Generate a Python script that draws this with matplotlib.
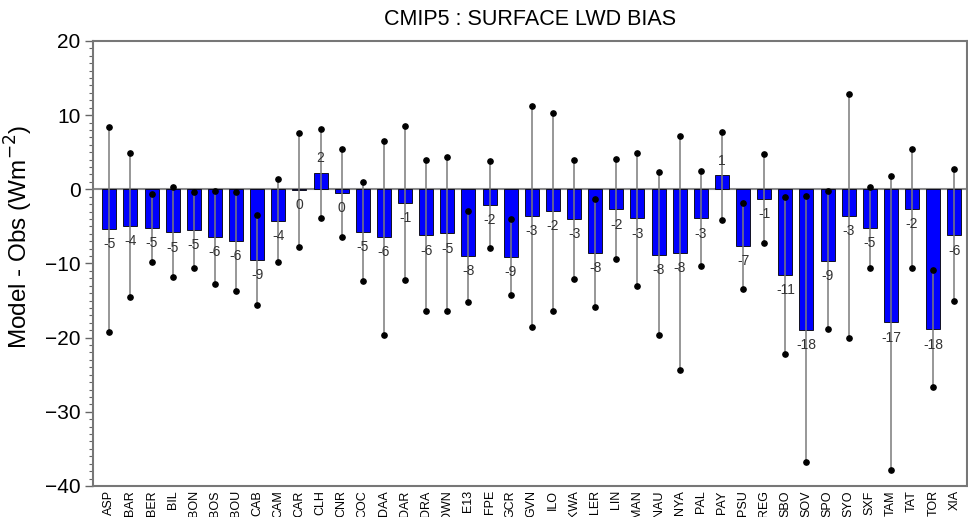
import numpy as np
import matplotlib
matplotlib.use("Agg")
import matplotlib.pyplot as plt

plt.rcParams['font.family'] = ['Liberation Sans', 'DejaVu Sans']

stations = ["ASP", "BAR", "BER", "BIL", "BON", "BOS", "BOU", "CAB", "CAM", "CAR",
            "CLH", "CNR", "COC", "DAA", "DAR", "DRA", "DWN", "E13", "FPE", "GCR",
            "GVN", "ILO", "KWA", "LER", "LIN", "MAN", "NAU", "NYA", "PAL", "PAY",
            "PSU", "REG", "SBO", "SOV", "SPO", "SYO", "SXF", "TAM", "TAT", "TOR", "XIA"]

# multi-model mean bias (W m-2)
bias = [-5.3, -4.9, -5.2, -5.8, -5.5, -6.4, -6.95, -9.5, -4.3, -0.1,
        2.25, -0.5, -5.7, -6.4, -1.8, -6.2, -5.95, -8.95, -2.1, -9.1,
        -3.6, -2.95, -3.95, -8.6, -2.7, -3.9, -8.8, -8.6, -3.9, 1.9,
        -7.66, -1.3, -11.5, -18.95, -9.6, -3.6, -5.2, -17.95, -2.6, -18.9, -6.2]

# model spread: highest and lowest individual-model bias
bias_max = [8.4, 4.9, -0.6, 0.3, -0.4, -0.2, -0.4, -3.4, 1.35, 7.6,
            8.2, 5.5, 1.0, 6.5, 8.5, 4.0, 4.3, -2.9, 3.8, -4.0,
            11.3, 10.3, 4.0, -1.3, 4.05, 4.9, 2.3, 7.2, 2.5, 7.7,
            -1.9, 4.7, -1.0, -0.95, -0.27, 12.9, 0.3, 1.75, 5.5, -10.9, 2.7]
bias_min = [-19.2, -14.5, -9.8, -11.8, -10.6, -12.7, -13.7, -15.6, -9.8, -7.8,
            -3.9, -6.4, -12.4, -19.6, -12.2, -16.4, -16.4, -15.2, -7.9, -14.2,
            -18.5, -16.4, -12.1, -15.8, -9.4, -13.0, -19.7, -24.4, -10.4, -4.1,
            -13.5, -7.3, -22.2, -36.8, -18.9, -20.1, -10.6, -37.8, -10.6, -26.6, -15.1]

x = np.arange(len(stations))

fig = plt.figure(figsize=(9.68, 5.17), dpi=100)
ax = fig.add_axes([0.0961, 0.06, 0.9029, 0.8607])

ax.axhline(0, color="#8a8a8a", lw=1.5, zorder=1)
ax.bar(x, bias, width=0.66, color="#0000ff", edgecolor="black", linewidth=0.6, zorder=2)
ax.vlines(x, bias_min, bias_max, color="#7a7a7a", lw=1.1, zorder=3)
ax.plot(x, bias_max, "o", color="black", ms=3.8, zorder=4)
ax.plot(x, bias_min, "o", color="black", ms=3.8, zorder=4)

for xi, v in zip(x, bias):
    off = 10.5 if v > 0 else -11
    ax.annotate(f"{int(v)}", (xi, v), xytext=(0, off), textcoords="offset points",
                ha="center", va="center", fontsize=10, color="#333333", zorder=5)

ax.set_xlim(-0.77, 40.6)
ax.set_ylim(-40, 20)
ax.set_yticks(np.arange(-40, 21, 10))
ax.set_yticks(np.arange(-40, 21, 1), minor=True)
ax.tick_params(axis="y", which="major", length=6, width=1, color="#666666", labelsize=15, pad=3)
ax.tick_params(axis="y", which="minor", length=3, width=0.8, color="#666666")
ax.set_xticks(x)
ax.set_xticklabels(stations, rotation=90, fontsize=9, va="top")
ax.tick_params(axis="x", length=0, pad=3)

for s in ax.spines.values():
    s.set_color("#777777")
    s.set_linewidth(1.5)

ax.set_ylabel("Model - Obs (Wm$^{-2}$)", fontsize=17.5)
ax.yaxis.set_label_coords(-0.066, 0.56)
fig.text(0.548, 0.962, "CMIP5 : SURFACE LWD BIAS", ha="center", va="center", fontsize=15.5)

fig.savefig("out.png", dpi=100)
